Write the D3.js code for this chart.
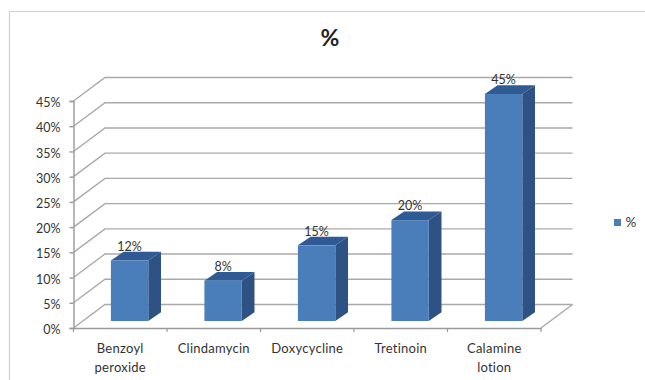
<!DOCTYPE html>
<html>
<head>
<meta charset="utf-8">
<script src="https://cdn.jsdelivr.net/npm/d3@7"></script>
<style>
html,body{margin:0;padding:0;background:#fff}
svg{display:block}
text{font-family:Lato,"Open Sans",sans-serif}
</style>
</head>
<body>
<div id="chart"></div>
<script>
const categories = [["Benzoyl","peroxide"],["Clindamycin"],["Doxycycline"],["Tretinoin"],["Calamine","lotion"]];
const values = [12, 8, 15, 20, 45];
const tickValues = [0,5,10,15,20,25,30,35,40,45];
const seriesName = "%";

const W = 645, H = 380;
const depth = {x: 31.5, y: 23.5};
const barDepth = {x: 12.7, y: 8.7};
const barLift = 7;
const gridColor = "#a9a9a9", axisColor = "#9a9a9a", textColor = "#333";
const frontColor = "#4a7ebb", sideColor = "#2f5285", topColor = "#2f5a94";

const svg = d3.select("#chart").append("svg").attr("width", W).attr("height", H);

// Outer chart frame, running off the top-right and bottom-left of the page
svg.append("path").attr("d", "M9.5,381V11.5H646").attr("fill","none").attr("stroke","#cfcfcf").attr("stroke-width",1.2);

const x = d3.scaleBand().domain(d3.range(categories.length)).range([73.5, 541]).paddingInner(0).paddingOuter(0);
const y = d3.scaleLinear().domain([0,45]).range([328, 101]);
const barW = x.bandwidth() * 0.4;

// Back wall gridlines with their diagonal return to the front axis
const grid = svg.append("g").attr("fill","none").attr("stroke",gridColor).attr("stroke-width",1.4);
grid.selectAll("path").data(tickValues).join("path")
  .attr("d", d => {
    const p = d3.path();
    p.moveTo(73.5, y(d));
    p.lineTo(73.5 + depth.x, y(d) - depth.y);
    p.lineTo(541 + depth.x, y(d) - depth.y);
    return p.toString();
  });

// Floor's right edge
grid.append("path").attr("d", () => {
  const p = d3.path();
  p.moveTo(541, y(0));
  p.lineTo(541 + depth.x, y(0) - depth.y);
  return p.toString();
});

// Value axis
const yAxis = d3.axisLeft(y).tickValues(tickValues).tickSize(4).tickPadding(9).tickFormat(d => d + "%");
const yG = svg.append("g").attr("transform","translate(73.5,0)").call(yAxis);
yG.selectAll("path,line").attr("stroke",axisColor).attr("stroke-width",1.4);
yG.selectAll("text").attr("font-size",12.5).attr("fill",textColor).attr("dy","0.45em").style("font-family","Lato,sans-serif");

// Category axis
const catAxis = d3.axisBottom(x).tickSize(0).tickFormat("");
const xG = svg.append("g").attr("transform",`translate(0,${y(0)})`).call(catAxis);
xG.selectAll("path").attr("stroke",axisColor).attr("stroke-width",1.4);
xG.selectAll("line.edge").data(d3.range(categories.length + 1)).join("line")
  .attr("class","edge")
  .attr("x1", i => 73.5 + i * x.step()).attr("x2", i => 73.5 + i * x.step())
  .attr("y1",0).attr("y2",4).attr("stroke",axisColor).attr("stroke-width",1.2);

// Category labels, wrapped on two lines where needed
const labels = svg.append("g").attr("text-anchor","middle").attr("font-size",13).attr("letter-spacing",0.25).attr("fill",textColor);
labels.selectAll("text").data(categories).join("text")
  .attr("transform",(d,i) => `translate(${x(i) + x.bandwidth()/2},353)`)
  .selectAll("tspan").data(d => d).join("tspan")
  .attr("x",0).attr("y",(d,i) => i * 18.5).text(d => d);

// Extruded columns: side, top, then front face
const bars = svg.append("g").selectAll("g").data(values).join("g");
const barLeft = i => x(i) + x.bandwidth() * 0.4;
const barBase = y(0) - barLift;
const barTop = v => barBase - (y(0) - y(v));

bars.append("path").attr("fill",sideColor).attr("d",(v,i) => {
  const r = barLeft(i) + barW;
  return `M${r},${barBase}L${r + barDepth.x},${barBase - barDepth.y}L${r + barDepth.x},${barTop(v) - barDepth.y}L${r},${barTop(v)}Z`;
});
bars.append("path").attr("fill",topColor).attr("d",(v,i) => {
  const l = barLeft(i), r = l + barW, t = barTop(v);
  return `M${l},${t}L${l + barDepth.x},${t - barDepth.y}L${r + barDepth.x},${t - barDepth.y}L${r},${t}Z`;
});
bars.append("rect").attr("fill",frontColor)
  .attr("x",(v,i) => barLeft(i)).attr("width",barW)
  .attr("y",v => barTop(v)).attr("height",v => barBase - barTop(v));

// Value labels above each column
svg.append("g").attr("text-anchor","middle").attr("font-size",12.5).attr("fill",textColor)
  .selectAll("text").data(values).join("text")
  .attr("x",(v,i) => barLeft(i) + barW/2)
  .attr("y",v => barTop(v) - barDepth.y - 1)
  .text(v => v + "%");

// Title
svg.append("text").attr("x",330).attr("y",46).attr("text-anchor","middle")
  .attr("font-size",23).attr("font-weight",700).attr("fill","#222").text(seriesName);

// Legend
svg.append("rect").attr("x",614).attr("y",219).attr("width",7).attr("height",7).attr("fill",frontColor);
svg.append("text").attr("x",625.5).attr("y",227).attr("font-size",13.5).attr("fill",textColor).text(seriesName);
</script>
</body>
</html>
